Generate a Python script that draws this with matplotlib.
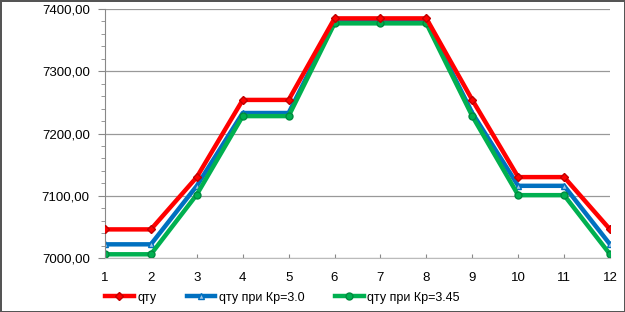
import matplotlib.pyplot as plt
import numpy as np
from matplotlib.ticker import FuncFormatter, MultipleLocator

months = np.arange(1, 13)
qty = [7046, 7046, 7130, 7254, 7254, 7385, 7385, 7385, 7254, 7130, 7130, 7046]
qty_kp30 = [7022, 7022, 7116, 7233, 7233, 7380, 7380, 7380, 7233, 7116, 7116, 7022]
qty_kp345 = [7006, 7006, 7102, 7228, 7228, 7377, 7377, 7377, 7228, 7101, 7101, 7006]
labels = ['qту', 'qту при Кр=3.0', 'qту при Кр=3.45']

plt.rcParams['font.family'] = ['Liberation Sans', 'DejaVu Sans']

fig = plt.figure(figsize=(6.25, 3.12), dpi=100)
fig.patch.set_edgecolor('#555555')
fig.patch.set_linewidth(2)
ax = fig.add_axes([0.168, 0.173, 0.808, 0.798])

ax.plot(months, qty, color='#ff0000', lw=3.2, marker='D', ms=4.5,
        mfc='#ff0000', mec='#c00000', label=labels[0], zorder=3)
ax.plot(months, qty_kp30, color='#0070c0', lw=3.2, marker='^', ms=5,
        mfc='#9dc3e6', mec='#0070c0', label=labels[1], zorder=2)
ax.plot(months, qty_kp345, color='#00b050', lw=3.2, marker='o', ms=5,
        mfc='#00b050', mec='#008a3e', label=labels[2], zorder=2)

ax.set_xlim(1, 12)
ax.set_ylim(7000, 7400)
ax.set_xticks(months)
ax.yaxis.set_major_locator(MultipleLocator(100))
ax.yaxis.set_minor_locator(MultipleLocator(20))
ax.yaxis.set_major_formatter(FuncFormatter(lambda v, p: f'{v:.2f}'.replace('.', ',')))
ax.grid(axis='y', color='#999999', lw=0.9)
ax.set_axisbelow(True)

for s in ['top', 'right']:
    ax.spines[s].set_visible(False)
ax.spines['left'].set_color('#888888')
ax.spines['bottom'].set_color('#bbbbbb')
ax.tick_params(axis='y', which='both', direction='out', color='#888888', labelsize=9.5, pad=6)
ax.tick_params(axis='y', which='major', length=5)
ax.tick_params(axis='y', which='minor', length=3)
ax.tick_params(axis='x', direction='in', length=3, color='#888888', labelsize=9.5, pad=10)

fig.legend(loc='lower left', bbox_to_anchor=(0.152, -0.005), ncol=3, frameon=False,
           fontsize=9, handlelength=2.3, columnspacing=2.4, handletextpad=0.3,
           borderpad=0.3)

fig.savefig('out.png', dpi=100)
